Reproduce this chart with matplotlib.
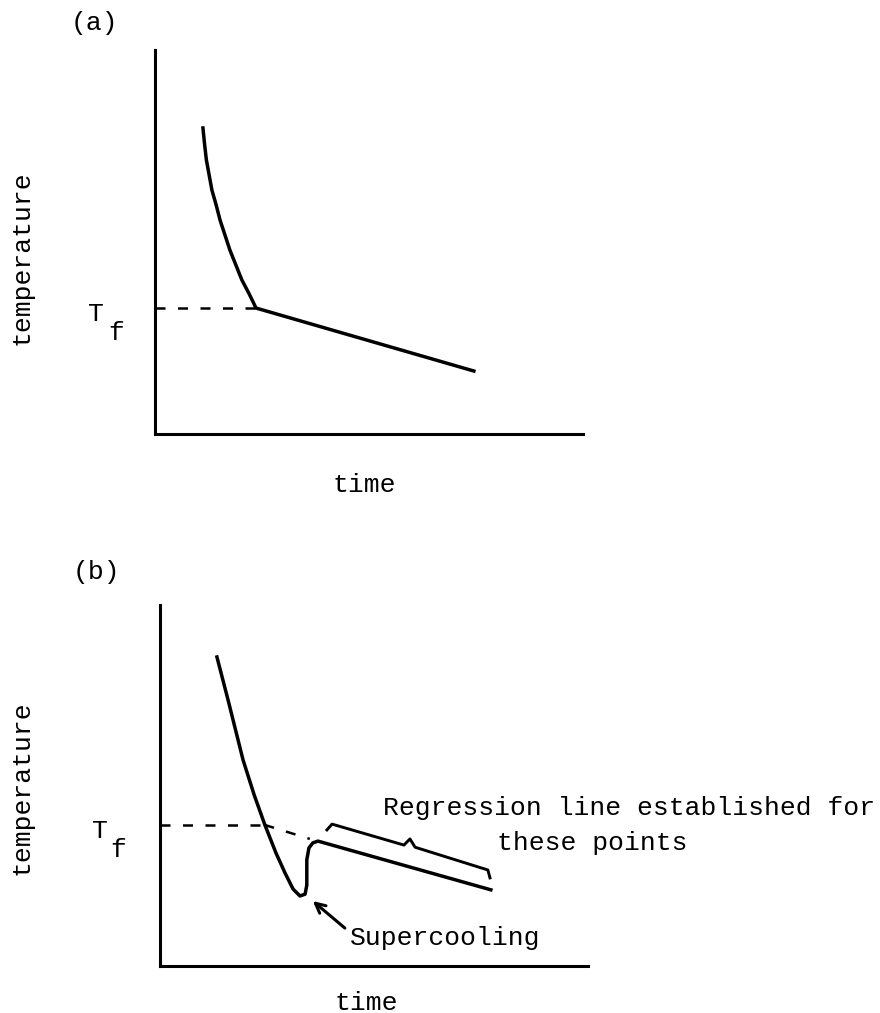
import matplotlib
matplotlib.use('Agg')
import matplotlib.pyplot as plt
from matplotlib.transforms import blended_transform_factory

plt.rcParams['font.family'] = ['Liberation Mono', 'DejaVu Sans Mono']

# (a) cooling curve without supercooling (arbitrary time / temperature units)
time_a = [11.2, 11.6, 12.0, 13.3, 14.3, 15.2, 17.5, 18.9, 20.3, 22.0, 23.6, 74.5]
temp_a = [79.7, 75.3, 71.4, 63.5, 59.6, 55.7, 47.9, 44.0, 40.1, 36.5, 32.8, 16.4]
tf_a = 32.8
knee_a = 23.6

# (b) cooling curve with supercooling dip
time_b = [13.3, 15.9, 19.4, 22.0, 24.5, 27.1, 29.2, 31.1, 32.7, 33.9, 34.3, 34.3,
          34.8, 35.7, 36.9, 77.3]
temp_b = [85.6, 73.7, 57.1, 47.4, 39.1, 31.3, 25.8, 21.3, 19.4, 19.9, 22.4, 29.4,
          32.7, 34.1, 34.6, 21.1]
tf_b = 39.1
# extrapolated regression line back to Tf
extrap_t = [24.4, 35.0]
extrap_T = [39.1, 35.2]
# brace over the points used for the regression
brace_t = [39.0, 40.2, 57.0, 58.4, 59.6, 76.6, 77.1]
brace_T = [37.7, 39.3, 33.5, 35.2, 32.9, 26.6, 24.4]

W, H = 880, 1013
fig = plt.figure(figsize=(W / 100, H / 100), dpi=100)


def frac(x, y):
    return x / W, 1 - y / H


def make_axes(left, top, right, bottom):
    ax = fig.add_axes([left / W, 1 - bottom / H, (right - left) / W, (bottom - top) / H])
    ax.set_xlim(0, 100)
    ax.set_ylim(0, 100)
    for s in ['top', 'right']:
        ax.spines[s].set_visible(False)
    for s in ['left', 'bottom']:
        ax.spines[s].set_linewidth(2.2)
    ax.set_xticks([])
    ax.set_yticks([])
    return ax


def tf_label(ax, tf, dx_T, dx_f):
    # T sits just below the Tf level, f is typed half a line lower
    tr = blended_transform_factory(ax.transAxes, ax.transData)
    ax.annotate('T', xy=(0, tf), xycoords=tr, xytext=(dx_T, -13),
                textcoords='offset pixels', ha='left', va='baseline', fontsize=19)
    ax.annotate('f', xy=(0, tf), xycoords=tr, xytext=(dx_f, -32),
                textcoords='offset pixels', ha='left', va='baseline', fontsize=19)


# panel (a)
ax1 = make_axes(155, 50, 583, 434)
ax1.plot(time_a, temp_a, color='black', lw=2.5, solid_joinstyle='round')
ax1.plot([0, knee_a], [tf_a, tf_a], color='black', lw=1.8, ls=(0, (4, 5)))
tf_label(ax1, tf_a, -67, -47)

# panel (b)
ax2 = make_axes(160, 605, 588, 966)
ax2.plot(time_b, temp_b, color='black', lw=2.5, solid_joinstyle='round')
ax2.plot([0, extrap_t[0]], [tf_b, tf_b], color='black', lw=1.8, ls=(0, (4, 5)))
ax2.plot(extrap_t, extrap_T, color='black', lw=1.8, ls=(0, (4, 5)))
ax2.plot(brace_t, brace_T, color='black', lw=2.1, solid_joinstyle='round')
ax2.annotate('', xy=(35.7, 18.0), xytext=(43.2, 10.5),
             arrowprops=dict(arrowstyle='->, head_length=0.7, head_width=0.35',
                             color='black', lw=2.2, shrinkA=0, shrinkB=0))
tf_label(ax2, tf_b, -68, -50)

# text
fs = 19
fig.text(*frac(94, 23), '(a)', ha='center', va='center', fontsize=fs)
fig.text(*frac(96, 572), '(b)', ha='center', va='center', fontsize=fs)
fig.text(*frac(22, 258), 'temperature', rotation=90, ha='center', va='center', fontsize=fs)
fig.text(*frac(22, 788), 'temperature', rotation=90, ha='center', va='center', fontsize=fs)
fig.text(*frac(364, 492), 'time', ha='center', va='baseline', fontsize=fs)
fig.text(*frac(366, 1010), 'time', ha='center', va='baseline', fontsize=fs)
fig.text(*frac(383, 815), 'Regression line established for', ha='left', va='baseline', fontsize=fs)
fig.text(*frac(497, 850), 'these points', ha='left', va='baseline', fontsize=fs)
fig.text(*frac(350, 945), 'Supercooling', ha='left', va='baseline', fontsize=fs)

fig.savefig('out.png', dpi=100)
